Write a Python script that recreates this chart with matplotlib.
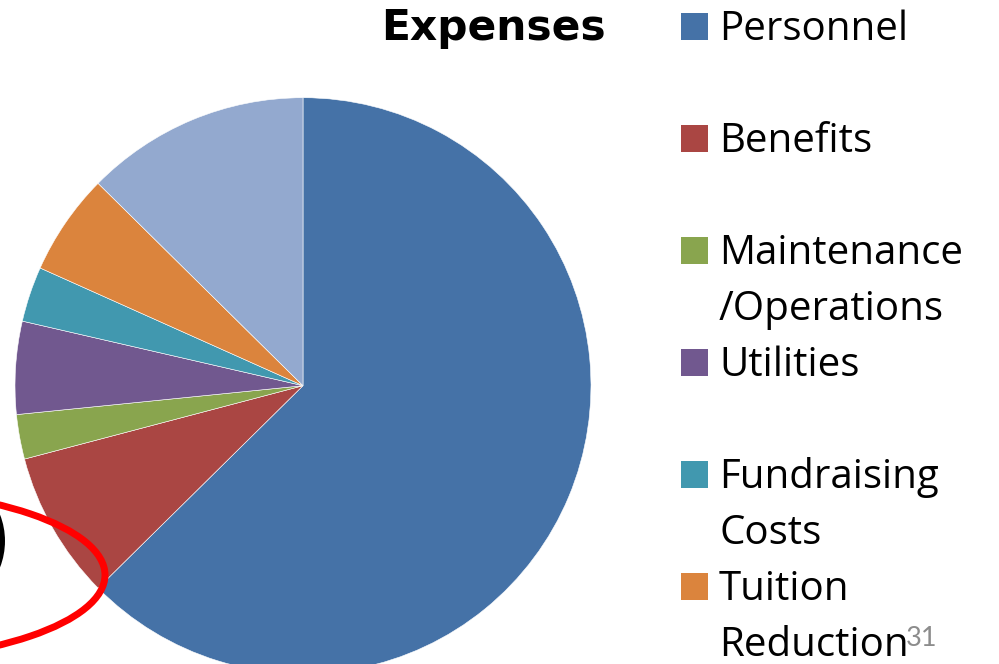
"""
Expenses pie chart (slide 31).
"""

import matplotlib
matplotlib.use("Agg")

import matplotlib.pyplot as plt
from matplotlib.patches import Ellipse, Rectangle

# -----------------------------------------
# Data
# -----------------------------------------

labels = [
    "Personnel",
    "Benefits",
    "Maintenance\n/Operations",
    "Utilities",
    "Fundraising\nCosts",
    "Tuition\nReduction",
    "Other",
]

shares = [62.6, 8.3, 2.5, 5.2, 3.1, 5.7, 12.6]

colors = [
    "#4572A7",
    "#AA4643",
    "#89A54E",
    "#71588F",
    "#4198AF",
    "#DB843D",
    "#93A9CF",
]

title = "Expenses"
slide_number = "31"

# -----------------------------------------
# Figure (axes in pixel units, y up)
# -----------------------------------------

W, H = 999, 664

fig = plt.figure(figsize=(W / 100, H / 100), dpi=100)
ax = fig.add_axes([0, 0, 1, 1])

ax.pie(
    shares,
    colors=colors,
    startangle=90,
    counterclock=False,
    center=(303, H - 385.7),
    radius=288,
    wedgeprops=dict(edgecolor="white", linewidth=0.4),
)

ax.set_xlim(0, W)
ax.set_ylim(0, H)
ax.set_aspect("equal")
ax.axis("off")

# -----------------------------------------
# Title
# -----------------------------------------

ax.text(
    381, H - 40, title,
    family="DejaVu Sans", fontweight="bold", fontsize=30.5,
    ha="left", va="baseline", color="black",
)

# -----------------------------------------
# Legend (drawn by hand, two text rows per entry)
# -----------------------------------------

row = 56
for i, (label, color) in enumerate(zip(labels, colors)):
    top = 12.7 + 2 * row * i
    ax.add_patch(
        Rectangle((681, H - top - 27), 27, 27, facecolor=color, edgecolor="none")
    )
    for k, line in enumerate(label.split("\n")):
        ax.text(
            719, H - (top + 27 + row * k), line,
            family="Open Sans", fontsize=29,
            ha="left", va="baseline", color="black",
        )

# -----------------------------------------
# Slide number and hand-drawn marks
# -----------------------------------------

ax.text(
    906, H - 646, slide_number,
    family="Lato", fontsize=19.5, color="#8C8C8C",
    ha="left", va="baseline",
)

ax.add_patch(
    Ellipse((-150, H - 575), 510, 173, fill=False, edgecolor="#FF0000",
            linewidth=5, clip_on=False)
)

ax.add_patch(
    Ellipse((-60, H - 541), 124, 132, fill=False, edgecolor="black",
            linewidth=4.3)
)

fig.savefig("out.png", dpi=100)
